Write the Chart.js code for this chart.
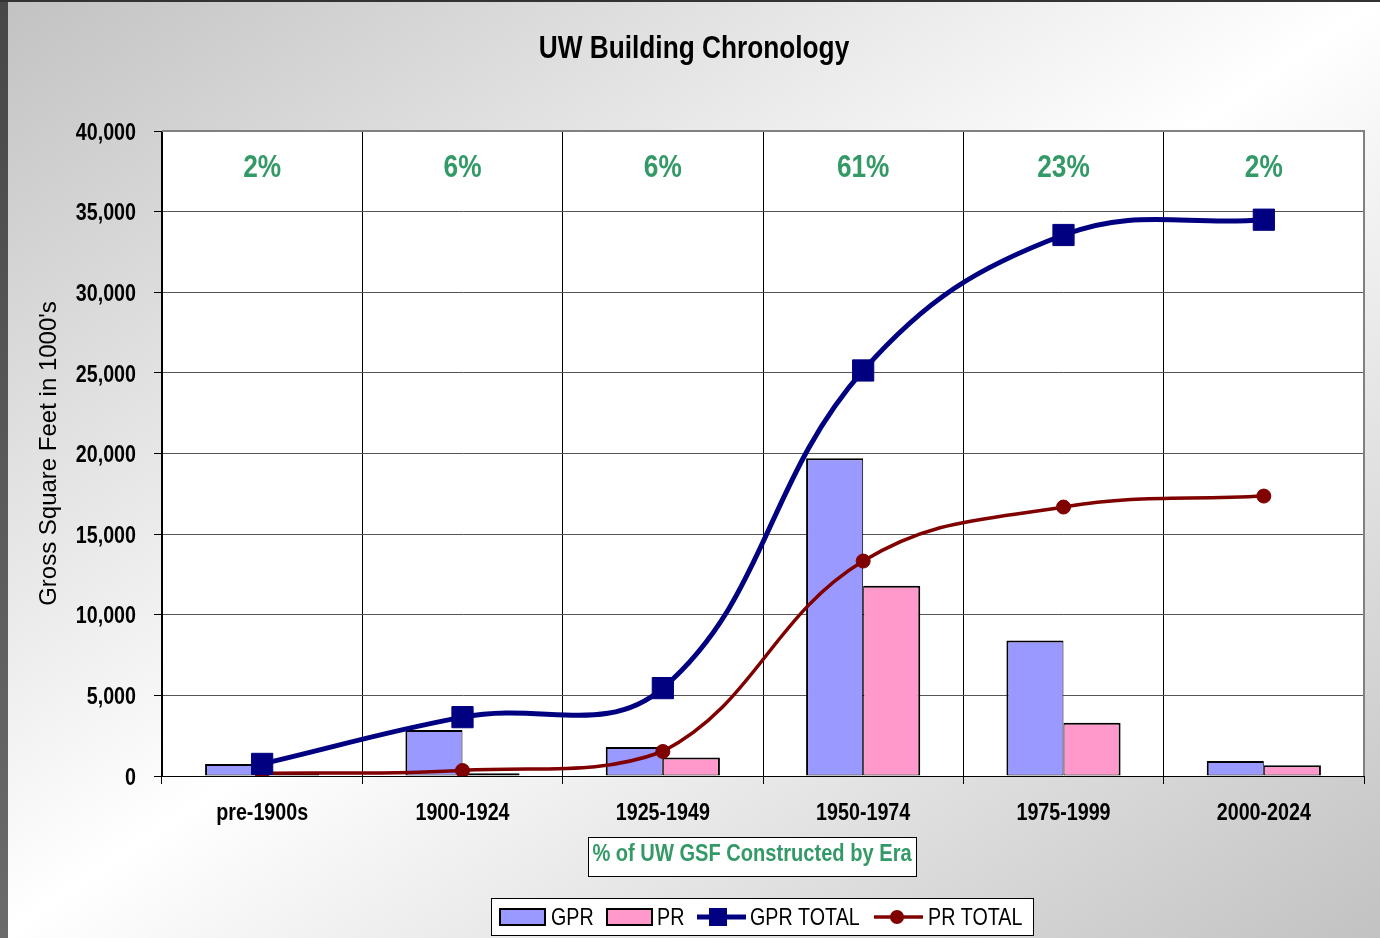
<!DOCTYPE html>
<html><head><meta charset="utf-8">
<script src="https://cdn.jsdelivr.net/npm/chart.js@4.4.1/dist/chart.umd.min.js"></script>
<style>
html,body{margin:0;padding:0;}
body{width:1380px;height:938px;overflow:hidden;position:relative;
 background:linear-gradient(to bottom right,#c2c2c2 0%,#ffffff 50%,#c2c2c2 100%);}
#c{position:absolute;left:0;top:0;}
#lb{position:absolute;left:0;top:0;width:8px;height:938px;background:linear-gradient(#474747,#6b6b6b);}
#tb{position:absolute;left:0;top:0;width:1380px;height:2px;background:#333;}
</style></head><body>
<canvas id="c" width="1380" height="938"></canvas>
<div id="lb"></div><div id="tb"></div>
<script>
const categories = ['pre-1900s', '1900-1924', '1925-1949', '1950-1974', '1975-1999', '2000-2024'];
const gprValues = [750, 2850, 1800, 19700, 8400, 930];
const prValues = [170, 170, 1150, 11800, 3300, 660];
const gprTotal = [750, 3650, 5450, 25150, 33550, 34500];
const prTotal = [170, 340, 1520, 13330, 16680, 17360];
const eraPercent = ['2%', '6%', '6%', '61%', '23%', '2%'];
const chartTitle = 'UW Building Chronology';
const yAxisTitle = "Gross Square Feet in 1000's";
const eraNote = '% of UW GSF Constructed by Era';
const seriesNames = ['GPR', 'PR', 'GPR TOTAL', 'PR TOTAL'];
const yMin = 0, yMax = 40000, yStep = 5000;

const FONT = "'Liberation Sans',Arial,sans-serif";
const NARROW_SCALE = 0.82;
const C_GPR = '#9999FF', C_PR = '#FF99CC', C_GT = '#000080', C_PT = '#800000', C_GREEN = '#339966';

// Horizontal text in the reference is condensed (Arial Narrow look): draw it with a horizontal squeeze.
const canvas = document.getElementById('c');
const cctx = canvas.getContext('2d');
const origFillText = cctx.fillText.bind(cctx);
cctx.fillText = function (t, x, y, maxW) {
  const m = cctx.getTransform();
  if (Math.abs(m.b) > 1e-6 || Math.abs(m.c) > 1e-6) {
    return maxW === undefined ? origFillText(t, x, y) : origFillText(t, x, y, maxW);
  }
  cctx.save();
  cctx.translate(x, y);
  cctx.scale(NARROW_SCALE, 1);
  if (maxW === undefined) origFillText(t, 0, 0); else origFillText(t, 0, 0, maxW / NARROW_SCALE);
  cctx.restore();
};

const decor = {
  id: 'decor',
  beforeDraw(chart) {
    const {ctx, chartArea: a} = chart;
    ctx.save();
    ctx.fillStyle = '#ffffff';
    ctx.fillRect(a.left, a.top, a.right - a.left, a.bottom - a.top);
    ctx.restore();
  },
  beforeDatasetsDraw(chart) {
    const {ctx, chartArea: a} = chart;
    ctx.save();
    ctx.strokeStyle = '#808080';
    ctx.lineWidth = 2;
    ctx.beginPath();
    ctx.moveTo(a.left, a.top);
    ctx.lineTo(a.right, a.top);
    ctx.lineTo(a.right, a.bottom);
    ctx.stroke();
    ctx.restore();
  },
  afterDraw(chart) {
    const {ctx, chartArea: a, scales} = chart;
    ctx.save();
    ctx.fillStyle = '#000';
    ctx.textAlign = 'center';
    ctx.textBaseline = 'middle';
    ctx.font = "bold 32px " + FONT;
    ctx.fillText(chartTitle, 694, 49);
    ctx.fillStyle = C_GREEN;
    ctx.font = "bold 32px " + FONT;
    eraPercent.forEach((p, i) => {
      ctx.fillText(p, scales.x.getPixelForValue(i), a.top + 37);
    });
    ctx.fillStyle = '#fff';
    ctx.fillRect(588.5, 837.5, 328, 39);
    ctx.strokeStyle = '#000';
    ctx.lineWidth = 1;
    ctx.strokeRect(588.5, 837.5, 328, 39);
    ctx.fillStyle = C_GREEN;
    ctx.font = "bold 24.5px " + FONT;
    ctx.fillText(eraNote, 752, 854);
    ctx.fillStyle = '#fff';
    ctx.fillRect(491.5, 898.5, 542, 37);
    ctx.strokeRect(491.5, 898.5, 542, 37);
    const ly = 917;
    ctx.lineWidth = 2;
    ctx.fillStyle = C_GPR; ctx.fillRect(500, 909, 45, 16); ctx.strokeRect(500, 909, 45, 16);
    ctx.fillStyle = C_PR; ctx.fillRect(607, 909, 45, 16); ctx.strokeRect(607, 909, 45, 16);
    ctx.strokeStyle = C_GT; ctx.lineWidth = 5;
    ctx.beginPath(); ctx.moveTo(697, ly); ctx.lineTo(746, ly); ctx.stroke();
    ctx.fillStyle = C_GT; ctx.fillRect(709, ly - 9, 18, 18);
    ctx.strokeStyle = C_PT; ctx.lineWidth = 3.5;
    ctx.beginPath(); ctx.moveTo(874, ly); ctx.lineTo(923, ly); ctx.stroke();
    ctx.fillStyle = C_PT; ctx.beginPath(); ctx.arc(897, ly, 7, 0, Math.PI * 2); ctx.fill();
    ctx.fillStyle = '#000';
    ctx.textAlign = 'left';
    ctx.font = "24px " + FONT;
    ctx.fillText(seriesNames[0], 551, ly + 1);
    ctx.fillText(seriesNames[1], 657, ly + 1);
    ctx.fillText(seriesNames[2], 750, ly + 1);
    ctx.fillText(seriesNames[3], 928, ly + 1);
    ctx.restore();
  }
};

new Chart(canvas, {
  data: {
    labels: categories,
    datasets: [
      {type: 'line', label: seriesNames[2], data: gprTotal, order: 1,
       borderColor: C_GT, backgroundColor: C_GT, borderWidth: 5, tension: 0.4,
       pointStyle: 'rect', pointRadius: 15, pointBorderWidth: 1, pointBackgroundColor: C_GT, pointBorderColor: C_GT},
      {type: 'line', label: seriesNames[3], data: prTotal, order: 2,
       borderColor: C_PT, backgroundColor: C_PT, borderWidth: 3.5, tension: 0.4,
       pointStyle: 'circle', pointRadius: 7, pointBorderWidth: 1, pointBackgroundColor: C_PT, pointBorderColor: C_PT},
      {type: 'bar', label: seriesNames[0], data: gprValues, order: 3,
       backgroundColor: C_GPR, borderColor: '#000', borderWidth: {top: 2, left: 2, right: 1, bottom: 1}, borderSkipped: false,
       categoryPercentage: 0.57, barPercentage: 1},
      {type: 'bar', label: seriesNames[1], data: prValues, order: 4,
       backgroundColor: C_PR, borderColor: '#000', borderWidth: {top: 2, left: 1, right: 2, bottom: 1}, borderSkipped: false,
       categoryPercentage: 0.57, barPercentage: 1}
    ]
  },
  options: {
    responsive: false,
    devicePixelRatio: 1,
    animation: false,
    layout: {padding: {left: 0, top: 131, right: 16, bottom: 0}},
    plugins: {legend: {display: false}, tooltip: {enabled: false}, title: {display: false}},
    scales: {
      x: {
        offset: true,
        grid: {offset: true, color: '#000', lineWidth: 1, tickLength: 8, tickColor: '#000'},
        border: {display: true, color: '#000', width: 1},
        ticks: {color: '#000', font: {family: FONT, size: 24, weight: 'bold'}, padding: 15, maxRotation: 0, autoSkip: false},
        afterFit(s) { s.height = 162; }
      },
      y: {
        min: yMin, max: yMax,
        grid: {color: '#555', lineWidth: 1, tickLength: 8, tickColor: '#000'},
        border: {display: true, color: '#000', width: 1},
        ticks: {stepSize: yStep, color: '#000', padding: 18, labelOffset: 2,
          font: {family: FONT, size: 24, weight: 'bold'},
          callback: v => v.toLocaleString('en-US')},
        title: {display: true, text: yAxisTitle, color: '#000', font: {family: FONT, size: 24}, padding: {top: 35, bottom: 0}},
        afterFit(s) { s.width = 162; }
      }
    }
  },
  plugins: [decor]
});
</script>
</body></html>
